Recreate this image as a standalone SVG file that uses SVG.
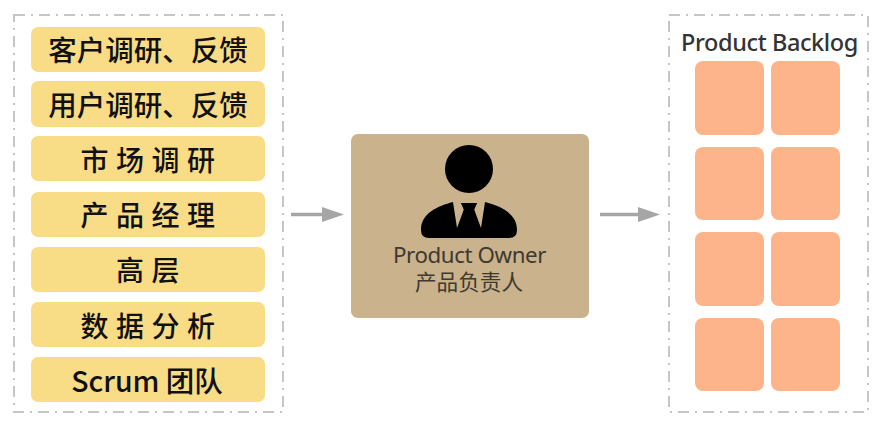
<svg xmlns="http://www.w3.org/2000/svg" width="881" height="425" viewBox="0 0 881 425">
<style>
.frame{fill:none;stroke:#c6c6c6;stroke-width:2;stroke-dasharray:11 6 2 6}
.item{fill:#f9dc86}
.cell{fill:#fdb48a}
.t{font-family:"Noto Sans CJK SC",sans-serif;font-weight:500;font-size:28.500px;fill:#111;text-anchor:middle;dominant-baseline:central}
.s{letter-spacing:7.500px;font-size:28px}
.o{fill:#40392f;text-anchor:middle}
.c{stroke:#a6a6a6;stroke-width:3.5;fill:none;marker-end:url(#a)}
</style>
<defs><marker id="a" markerUnits="userSpaceOnUse" markerWidth="23" markerHeight="16" refX="0" refY="8" orient="auto"><path d="M0 0.500L22 8L0 15.500Z" fill="#a6a6a6"/></marker></defs>
<rect width="881" height="425" fill="#fff"/>
<g id="sources">
<rect class="frame" x="14" y="15" width="269" height="397"/>
<g id="n1"><rect class="item" x="31" y="27" width="234" height="45" rx="7"/><text class="t" x="148" y="48.500">客户调研、反馈</text></g>
<g id="n2"><rect class="item" x="31" y="81" width="234" height="46" rx="7"/><text class="t" x="148" y="103.500">用户调研、反馈</text></g>
<g id="n3"><rect class="item" x="31" y="136" width="234" height="45" rx="7"/><text class="t s" x="151.500" y="159">市场调研</text></g>
<g id="n4"><rect class="item" x="31" y="192" width="234" height="45" rx="7"/><text class="t s" x="151.500" y="214">产品经理</text></g>
<g id="n5"><rect class="item" x="31" y="247" width="234" height="45" rx="7"/><text class="t s" x="151.500" y="269">高层</text></g>
<g id="n6"><rect class="item" x="31" y="302" width="234" height="45" rx="7"/><text class="t s" x="151.500" y="325">数据分析</text></g>
<g id="n7"><rect class="item" x="31" y="357" width="234" height="45" rx="7"/><text class="t" x="147" y="379">Scrum 团队</text></g>
</g>
<g id="connectors">
<line class="c" x1="291" y1="214.500" x2="322" y2="214.500"/>
<line class="c" x1="600" y1="214.500" x2="638" y2="214.500"/>
</g>
<g id="owner">
<rect x="351" y="134" width="238" height="184" rx="7" fill="#c9b28c"/>
<circle cx="469" cy="169" r="24"/>
<path d="M453 202C438 206 421 213 421 230Q421 238 429 238H509Q517 238 517 230C517 213 500 206 485 202L481 228L474 209L477 203H461L464 209L457 228Z"/>
<path d="M461 203H477L474 210L479 238H459L464 210Z"/>
<text class="o" x="469.500" y="263" font-family="'Noto Sans',sans-serif" font-size="22.300" letter-spacing="-0.4">Product Owner</text>
<text class="o" x="469" y="290" font-family="'Liberation Sans','Noto Sans CJK SC',sans-serif" font-size="21.600">产品负责人</text>
</g>
<g id="backlog">
<rect class="frame" x="669" y="15" width="199" height="397"/>
<text x="769.500" y="51" font-family="'Noto Sans',sans-serif" font-weight="500" font-size="23.500" letter-spacing="-0.4" fill="#333" text-anchor="middle">Product Backlog</text>
<rect class="cell" x="695" y="61" width="69" height="74" rx="8"/><rect class="cell" x="771" y="61" width="69" height="74" rx="8"/>
<rect class="cell" x="695" y="147" width="69" height="73" rx="8"/><rect class="cell" x="771" y="147" width="69" height="73" rx="8"/>
<rect class="cell" x="695" y="232" width="69" height="74" rx="8"/><rect class="cell" x="771" y="232" width="69" height="74" rx="8"/>
<rect class="cell" x="695" y="318" width="69" height="73" rx="8"/><rect class="cell" x="771" y="318" width="69" height="73" rx="8"/>
</g>
</svg>
